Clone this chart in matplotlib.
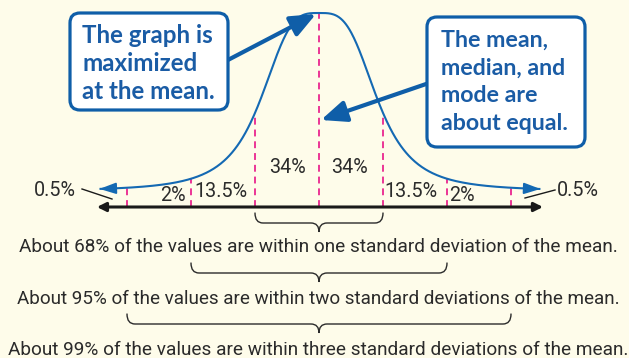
import matplotlib

matplotlib.use("Agg")

import matplotlib.pyplot as plt
import numpy as np
from matplotlib.patches import FancyArrowPatch, FancyBboxPatch, PathPatch
from matplotlib.path import Path
from matplotlib.transforms import Affine2D

# share of values in each band between successive standard deviations
sigma_marks = [-3, -2, -1, 0, 1, 2, 3]
band_shares = [0.5, 2, 13.5, 34, 34, 13.5, 2, 0.5]
band_labels = [f"{v:g}%" for v in band_shares]

# empirical rule lines under the number line
rule_pcts = [68, 95, 99]
rule_spans = [1, 2, 3]
rule_words = ["one standard deviation", "two standard deviations", "three standard deviations"]

callout_left = ["The graph is", "maximized", "at the mean."]
callout_right = ["The mean,", "median, and", "mode are", "about equal."]

BG = "#fefcea"
BLUE = "#1469b3"
BOX_BLUE = "#0f5ea8"
TEXT_BLUE = "#1a5ca5"
MAGENTA = "#e6007e"
INK = "#2b2b2b"
NARROW = ["Roboto", "DejaVu Sans"]
CALLOUT_FONT = ["Lato", "DejaVu Sans"]

W, H = 629, 358
MU_PX, SD_PX, AXIS_PX = 319, 64, 207

fig = plt.figure(figsize=(W / 100, H / 100), dpi=100)
fig.patch.set_facecolor(BG)
ax = fig.add_axes([0, 0, 1, 1])
ax.set_facecolor(BG)
ax.axis("off")
# x in standard deviations, y in pixels above the number line
ax.set_xlim(-MU_PX / SD_PX, (W - MU_PX) / SD_PX)
ax.set_ylim(AXIS_PX - H, AXIS_PX)

# pixel space measured from the top-left corner, for boxes and text
px = Affine2D().scale(1 / W, -1 / H).translate(0, 1) + fig.transFigure
renderer = fig.canvas.get_renderer()


def fit_size(s, target_w, **kw):
    t = ax.text(0, 0, s, fontsize=20, transform=px, **kw)
    w = t.get_window_extent(renderer).width
    t.remove()
    return 20 * target_w / w


def bell(s):
    # stylised bell: flat crown, heavier tails, sits a little above the axis
    return 16 + 178 / (1 + (np.abs(s) / 0.93) ** 3.4)


# number line with arrows at both ends
ax.annotate("", xy=(3.5, 0), xytext=(-3.47, 0),
            arrowprops=dict(arrowstyle="<|-|>", lw=2.2, color="#1a1a1a",
                            mutation_scale=13, shrinkA=0, shrinkB=0))

# bell curve
s = np.linspace(-3.43, 3.46, 500)
ax.plot(s, bell(s), color=BLUE, lw=1.5, solid_capstyle="butt", zorder=3)
for a, b in [(s[12], s[0]), (s[-13], s[-1])]:
    ax.annotate("", xy=(b, bell(b)), xytext=(a, bell(a)),
                arrowprops=dict(arrowstyle="-|>,head_length=0.5,head_width=0.17",
                                lw=1.3, color=BLUE, mutation_scale=20,
                                shrinkA=0, shrinkB=0), zorder=3)

# dashed drop lines at each standard deviation
for m in sigma_marks:
    ax.plot([m, m], [0, bell(m)], color=MAGENTA, lw=1.1, dashes=(4.5, 3.2), zorder=2)

# band percentages
label_x = [55, 173, 221, 287, 350, 411, 462, 578]
label_y = [196, 201, 197, 173, 173, 197, 201, 196]
pct_size = fit_size("13.5%", 53, family=NARROW)
for lab, x, y in zip(band_labels, label_x, label_y):
    ax.text(x, y, lab, transform=px, ha="center", va="baseline",
            fontsize=pct_size, family=NARROW, color=INK)

# leader lines to the outer 0.5% bands
for (x0, y0), (x1, y1) in [((82, 189), (112, 199)), ((525, 198), (555, 190))]:
    ax.plot([x0, x1], [y0, y1], transform=px, color="#1a1a1a", lw=1.0)


def brace(x0, x1, top, mid, tip):
    xc = (x0 + x1) / 2
    r = 8
    verts = [(x0, top), (x0, mid), (x0 + r, mid), (xc - r, mid), (xc, mid), (xc, tip),
             (xc, mid), (xc + r, mid), (x1 - r, mid), (x1, mid), (x1, top)]
    codes = [Path.MOVETO, Path.CURVE3, Path.CURVE3, Path.LINETO, Path.CURVE3, Path.CURVE3,
             Path.CURVE3, Path.CURVE3, Path.LINETO, Path.CURVE3, Path.CURVE3]
    ax.add_patch(PathPatch(Path(verts, codes), transform=px, fill=False,
                           ec=INK, lw=1.0, capstyle="round"))


brace_tops = [213, 263, 314]
rule_base = [252, 304, 355]
rule_width = [598, 605, 620]
for k, pct, words, top, base, tw in zip(rule_spans, rule_pcts, rule_words,
                                        brace_tops, rule_base, rule_width):
    x0 = MU_PX - k * SD_PX
    x1 = MU_PX + k * SD_PX
    brace(x0, x1, top, top + 10, top + 19)
    line = f"About {pct}% of the values are within {words} of the mean."
    size = fit_size(line, tw, family=NARROW)
    ax.text(318, base, line, transform=px, ha="center", va="baseline",
            fontsize=size, family=NARROW, color=INK)

# callout arrows, drawn under the boxes
for tail, head in [((226, 61), (316, 14)), ((429, 83), (321, 120))]:
    ax.add_patch(FancyArrowPatch(tail, head, transform=px,
                                 arrowstyle="-|>,head_length=0.9,head_width=0.38",
                                 mutation_scale=17, lw=3.0, color=BOX_BLUE,
                                 shrinkA=0, shrinkB=0, zorder=5))

# callout boxes
for (x, y, w, h), lines, tx, bases, tw in [
    ((70, 13, 158, 97), callout_left, 82, [43, 71, 99], 131),
    ((427, 17, 158, 130), callout_right, 441, [47, 75, 102, 130], 107),
]:
    ax.add_patch(FancyBboxPatch((x, y), w, h, transform=px,
                                boxstyle="round,pad=0,rounding_size=10",
                                fc="white", ec=BOX_BLUE, lw=2.3, zorder=6))
    size = fit_size(lines[0], tw, family=CALLOUT_FONT, fontweight="bold")
    for txt, b in zip(lines, bases):
        ax.text(tx, b, txt, transform=px, ha="left", va="baseline", fontsize=size,
                family=CALLOUT_FONT, fontweight="bold", color=TEXT_BLUE, zorder=7)

fig.savefig("out.png", dpi=100, facecolor=BG)
